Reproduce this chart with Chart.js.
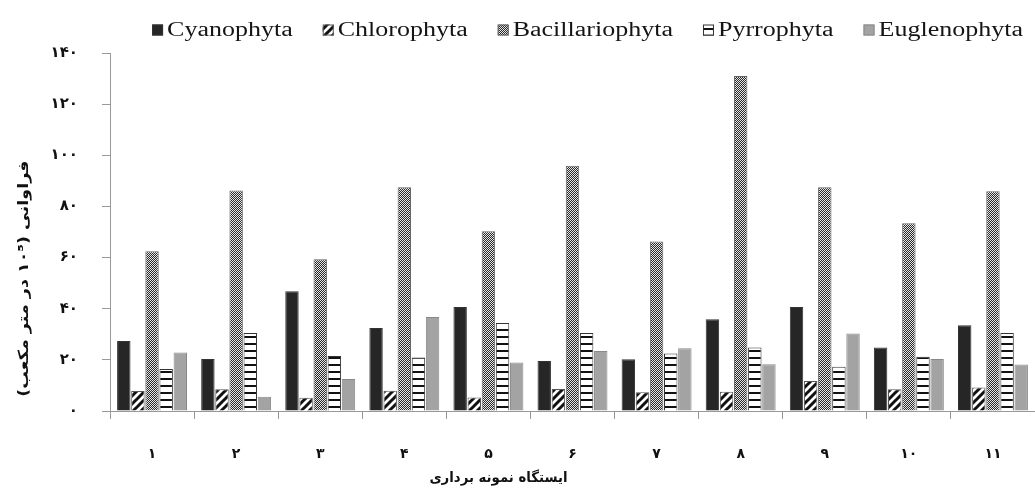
<!DOCTYPE html>
<html>
<head>
<meta charset="utf-8">
<script src="https://cdn.jsdelivr.net/npm/chart.js@4"></script>
<style>
  body { margin: 0; background: #fff; }
  #wrap { width: 1035px; height: 495px; }
</style>
</head>
<body>
<div id="wrap"><canvas id="myChart"></canvas></div>
<script>
const ctx = document.getElementById('myChart');

// stations 1..11
const categories = ['۱', '۲', '۳', '۴', '۵', '۶', '۷', '۸', '۹', '۱۰', '۱۱'];
const cyanophyta      = [27.4, 20.3, 46.8, 32.5, 40.7, 19.6, 20.2, 35.9, 40.7, 24.8, 33.5];
const chlorophyta     = [7.8, 8.5, 5.2, 7.9, 5.3, 8.6, 7.3, 7.5, 11.7, 8.5, 9.2];
const bacillariophyta = [62.5, 86.2, 59.3, 87.5, 70.3, 95.9, 66.3, 131, 87.5, 73.4, 85.9];
const pyrrophyta      = [16.4, 30.5, 21.5, 20.9, 34.4, 30.5, 22.5, 24.8, 17.3, 21.2, 30.5];
const euglenophyta    = [22.9, 5.6, 12.5, 36.8, 19.0, 23.5, 24.5, 18.3, 30.3, 20.3, 18.2];
const yTicks = [0, 20, 40, 60, 80, 100, 120, 140];

const yTitle = 'فراوانی (۱۰⁵ در متر مکعب)';
const xTitle = 'ایستگاه نمونه برداری';

function toFa(n){
  return String(n).replace(/\d/g, d => '۰۱۲۳۴۵۶۷۸۹'[d]);
}

function makePattern(w, h, draw){
  const c = document.createElement('canvas');
  c.width = w; c.height = h;
  const g = c.getContext('2d');
  draw(g);
  return g.createPattern(c, 'repeat');
}

const diagStripes = makePattern(8, 8, g => {
  g.fillStyle = '#fff'; g.fillRect(0, 0, 8, 8);
  g.strokeStyle = '#111'; g.lineWidth = 3;
  g.beginPath();
  g.moveTo(-4, 4); g.lineTo(4, -4);
  g.moveTo(0, 8); g.lineTo(8, 0);
  g.moveTo(4, 12); g.lineTo(12, 4);
  g.stroke();
});

const dots = makePattern(2, 2, g => {
  g.fillStyle = '#2a2a2a'; g.fillRect(0, 0, 2, 2);
  g.fillStyle = '#e6e6e6'; g.fillRect(0, 0, 1, 1); g.fillRect(1, 1, 1, 1);
});

const hStripes = makePattern(4, 7, g => {
  g.fillStyle = '#fff'; g.fillRect(0, 0, 4, 7);
  g.fillStyle = '#111'; g.fillRect(0, 0, 4, 2);
});

// legend and axis titles drawn by hand: the source text is stretched wide and rtl
const textPlugin = {
  id: 'faText',
  afterDraw(chart){
    const a = chart.chartArea;
    const c = chart.ctx;
    const stretch = 1.3;
    c.save();
    c.textBaseline = 'middle';

    // legend
    c.font = '20px "Liberation Serif"';
    const items = chart.data.datasets.map(ds => ({
      label: ds.label, fill: ds.backgroundColor, border: ds.borderColor,
      w: c.measureText(ds.label).width * stretch
    }));
    const box = 11, boxGap = 4, itemGap = 30;
    let total = items.reduce((s, it) => s + box + boxGap + it.w, 0) + itemGap * (items.length - 1);
    let x = (a.left + a.right) / 2 + 15 - total / 2;
    const y = 30;
    items.forEach(it => {
      c.fillStyle = it.fill;
      c.fillRect(x, y - box / 2, box, box);
      c.strokeStyle = it.border; c.lineWidth = 1;
      c.strokeRect(x + 0.5, y - box / 2 + 0.5, box - 1, box - 1);
      c.save();
      c.translate(x + box + boxGap, y + 1);
      c.scale(stretch, 1);
      c.fillStyle = '#141414';
      c.textAlign = 'left';
      c.fillText(it.label, 0, 0);
      c.restore();
      x += box + boxGap + it.w + itemGap;
    });

    // axis titles
    c.direction = 'rtl';
    c.fillStyle = '#111';
    c.font = 'bold 14px "DejaVu Sans"';
    c.textAlign = 'center';
    c.save();
    c.translate(a.left + (a.right - a.left) * 0.42, 478);
    c.scale(0.95, 1);
    c.fillText(xTitle, 0, 0);
    c.restore();
    c.translate(24, a.top + (a.bottom - a.top) * 0.63);
    c.rotate(-Math.PI / 2);
    c.scale(1.25, 1);
    c.fillText(yTitle, 0, 0);
    c.restore();
  }
};

const common = { borderWidth: 1, barPercentage: 0.95, categoryPercentage: 0.84 };

new Chart(ctx, {
  type: 'bar',
  data: {
    labels: categories,
    datasets: [
      { label: 'Cyanophyta', data: cyanophyta, backgroundColor: '#262626', borderColor: '#333', ...common },
      { label: 'Chlorophyta', data: chlorophyta, backgroundColor: diagStripes, borderColor: '#555', ...common },
      { label: 'Bacillariophyta', data: bacillariophyta, backgroundColor: dots, borderColor: '#666', ...common },
      { label: 'Pyrrophyta', data: pyrrophyta, backgroundColor: hStripes, borderColor: '#333', ...common },
      { label: 'Euglenophyta', data: euglenophyta, backgroundColor: '#a3a3a3', borderColor: '#888', ...common }
    ]
  },
  options: {
    responsive: true,
    maintainAspectRatio: false,
    animation: false,
    layout: { padding: { top: 53, right: 0, left: 0, bottom: 0 } },
    plugins: {
      legend: { display: false },
      tooltip: { enabled: false }
    },
    scales: {
      x: {
        grid: { offset: true, drawOnChartArea: false, tickLength: 8, color: '#999' },
        border: { color: '#999' },
        ticks: { color: '#111', padding: 27, font: { family: '"DejaVu Sans"', size: 14, weight: 'bold' } },
        afterFit(scale){ scale.height = 84; }
      },
      y: {
        min: 0,
        max: 140,
        afterBuildTicks(scale){ scale.ticks = yTicks.map(v => ({ value: v })); },
        grid: { drawOnChartArea: false, tickLength: 8, color: '#999' },
        border: { color: '#999' },
        ticks: {
          color: '#111',
          padding: 24,
          font: { family: '"DejaVu Sans"', size: 15, weight: 'bold' },
          callback: v => toFa(v)
        },
        afterFit(scale){ scale.width = 110; }
      }
    }
  },
  plugins: [textPlugin]
});
</script>
</body>
</html>
